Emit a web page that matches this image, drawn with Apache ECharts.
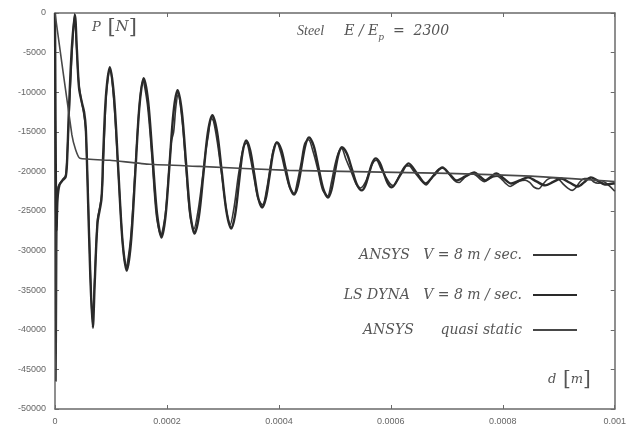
<!DOCTYPE html>
<html>
<head>
<meta charset="utf-8">
<script src="https://cdn.jsdelivr.net/npm/echarts@6/dist/echarts.min.js"></script>
<style>
html,body{margin:0;padding:0;background:#fff;}
#c{width:629px;height:439px;}
</style>
</head>
<body>
<div id="c"></div>
<script>
// displacement d in micrometres (x 1e-6 m), force P in N
const lsDyna = [
[0,0],[1.8,-24000],[2.7,-27500],[4.5,-23500],[8,-21700],[14,-21100],[19,-20700],[21.4,-19000],
[25,-12000],[30,-4500],[35.6,-250],[39,-4500],[43,-9500],[48,-11300],[52,-12500],[55,-14500],
[58,-21000],[63,-33000],[67.6,-39750],[71,-34000],[76,-26500],[83,-23500],[86,-18000],[91,-10500],
[97.9,-6840],[105.5,-10600],[113,-19700],[120.6,-28800],[128.1,-32530],[135.7,-28980],[143.3,-20380],
[150.8,-11780],[158.4,-8230],[166.4,-11170],[174.4,-18290],[182.4,-25410],[190.4,-28350],[197.5,-25630],
[204.7,-19050],[211.8,-12470],[218.9,-9750],[226.5,-12390],[234,-18800],[241.5,-25210],[249.1,-27850],
[257.1,-25670],[265.1,-20380],[273.1,-15090],[281.1,-12910],[289.5,-15000],[298,-20070],[306.5,-25130],
[314.9,-27220],[321.6,-25590],[328.3,-21650],[334.9,-17710],[341.6,-16080],[348.7,-17320],[355.9,-20320],
[363,-23320],[370.1,-24560],[376.8,-23360],[383.5,-20450],[390.1,-17530],[396.8,-16330],[404.4,-17290],
[412,-19620],[419.5,-21950],[427.1,-22910],[433.8,-21860],[440.5,-19310],[447.1,-16750],[453.8,-15700],
[462.3,-16810],[470.7,-19500],[479.2,-22180],[487.6,-23290],[493.8,-22370],[500,-20130],[506.3,-17880],
[512.5,-16960],[521.4,-17750],[530.3,-19680],[539.2,-21610],[548.1,-22400],[554.3,-21810],[560.6,-20380],
[566.8,-18940],[573,-18350],[580.1,-18890],[587.2,-20190],[594.3,-21480],[601.4,-22020],[616.5,-20500],
[631.7,-18990],[646.8,-20260],[661.9,-21520],[677,-20500],[692.2,-19490],[704.6,-20320],[717.1,-21140],
[733,-20640],[749.2,-20130],[759,-20640],[768.7,-21140],[778.5,-20700],[788.3,-20250],[801.6,-20890],
[815,-21520],[830,-21140],[845.2,-20760],[860,-21260],[875.5,-21770],[890,-21330],[904,-20890],
[919,-21400],[934.2,-21900],[946,-21330],[957.3,-20760],[970,-21200],[982.2,-21650],[1000,-21500]
];
const ansysDynamic = [
[0,0],[1.0,-30000],[1.8,-46500],[2.7,-35000],[3.6,-25000],[5.3,-22000],[9,-21500],[14,-21000],
[19,-20500],[22,-17500],[27,-10000],[32,-3000],[35,-100],[38,-3500],[42,-8500],[47,-11000],[52,-13000],
[55,-15000],[59,-23000],[63,-32500],[67,-39000],[71,-33500],[76,-26000],[80,-24500],[84,-22500],
[88,-16000],[92,-10000],[98,-7000],[105,-11000],[113,-20000],[121,-29200],[127,-32000],[135,-28500],
[143,-20000],[151,-11500],[157,-8600],[165,-11500],[173,-18000],[181,-25500],[189,-28000],[197,-25500],
[204,-19500],[208,-16200],[212,-15000],[216,-11800],[220,-10300],[227,-13500],[234,-19500],[241,-25500],
[248,-27300],[256,-24800],[264,-20500],[269,-17600],[274,-15400],[279,-13300],[283,-13600],[290,-16300],
[298,-20500],[306,-24800],[313,-26700],[320,-24500],[327,-20800],[332,-18600],[337,-16900],[342,-16400],
[349,-18300],[356,-21000],[363,-23500],[371,-24200],[378,-22300],[384,-19700],[390,-17300],[396,-16300],
[404,-17800],[411,-19900],[419,-22000],[427,-22800],[433,-21300],[440,-18800],[446,-16500],[453,-16000],
[461,-17500],[470,-19900],[478,-22300],[487,-23100],[494,-21300],[500,-19200],[506,-17700],[512,-17100],
[520,-18500],[529,-20000],[538,-21600],[546,-22100],[555,-21300],[562,-19900],[568,-18900],[574,-18600],
[582,-19600],[590,-20600],[598,-21500],[604,-21800],[612,-21000],[620,-19900],[627,-19300],[633,-19300],
[640,-19900],[648,-20600],[656,-21300],[663,-21700],[671,-21000],[679,-20200],[686,-19700],[693,-19600],
[700,-20000],[708,-20700],[716,-21300],[722,-21400],[730,-20900],[738,-20400],[745,-20300],[752,-20500],
[760,-21000],[767,-21300],[775,-21000],[782,-20700],[790,-20600],[797,-20900],[805,-21500],[813,-21900],
[821,-21600],[830,-21200],[840,-21100],[848,-21400],[856,-22000],[864,-22200],[872,-21600],[880,-21000],
[890,-20800],[900,-21000],[908,-21600],[916,-22100],[924,-22400],[930,-22100],[938,-21300],[946,-20900],
[955,-20900],[962,-21300],[970,-21500],[980,-21300],[990,-21800],[1000,-22500]
];
const ansysQuasi = [
[0,0],[30.2,-15400],[37,-17300],[44.5,-18350],[98,-18600],[169,-19100],[258,-19370],
[418,-19870],[703,-20250],[850,-20600],[1000,-21270]
];
const xTicks = [0, 0.0002, 0.0004, 0.0006, 0.0008, 0.001];
const yTicks = [0,-5000,-10000,-15000,-20000,-25000,-30000,-35000,-40000,-45000,-50000];
const legendNames = ['ANSYS   V = 8 m / sec.', 'LS DYNA   V = 8 m / sec.', 'ANSYS      quasi static'];

const toM = arr => arr.map(p => [p[0] * 1e-6, p[1]]);
const serif = '"DejaVu Serif", "Liberation Serif", serif';
const serif2 = '"Liberation Serif", serif';
const txtColor = '#555';
const frame = '#6a6a6a';
const lineColors = ['#363636', '#2a2a2a', '#484848'];

const chart = echarts.init(document.getElementById('c'), null, {renderer: 'canvas'});
const legendBase = (i, top) => ({
  data: [{name: legendNames[i], icon: 'rect', itemStyle: {color: lineColors[i]}}],
  right: 52, top: top, align: 'right', orient: 'vertical', padding: 0,
  itemWidth: 44, itemHeight: 2,
  textStyle: {fontFamily: serif, fontStyle: 'italic', fontSize: 14, color: txtColor, padding: [0, 6, 0, 0]}
});
chart.setOption({
  animation: false,
  backgroundColor: '#fff',
  grid: {left: 55, top: 13, right: 12, bottom: 30},
  legend: [legendBase(0, 248), legendBase(1, 288), legendBase(2, 323)],
  xAxis: [{
    type: 'value', min: xTicks[0], max: xTicks[xTicks.length - 1], interval: 0.0002,
    axisLine: {onZero: false, lineStyle: {color: frame, width: 1.5}},
    axisTick: {inside: true, length: 4, lineStyle: {color: frame}},
    axisLabel: {fontSize: 9, color: '#666', margin: 8, fontFamily: '"Liberation Sans", sans-serif',
      formatter: v => String(+v.toFixed(4))},
    splitLine: {show: false}
  }, {
    type: 'value', position: 'top', min: 0, max: 0.001, interval: 0.0002,
    axisLine: {onZero: false, lineStyle: {color: frame, width: 1.5}},
    axisTick: {inside: true, length: 4, lineStyle: {color: frame}},
    axisLabel: {show: false}, splitLine: {show: false}
  }],
  yAxis: [{
    type: 'value', min: yTicks[yTicks.length - 1], max: yTicks[0], interval: 5000,
    axisLine: {show: true, onZero: false, lineStyle: {color: frame, width: 1.5}},
    axisTick: {show: true, inside: true, length: 4, lineStyle: {color: frame}},
    axisLabel: {fontSize: 9, color: '#666', margin: 9, fontFamily: '"Liberation Sans", sans-serif',
      formatter: v => String(v)},
    splitLine: {show: false}
  }, {
    type: 'value', position: 'right', min: -50000, max: 0, interval: 5000,
    axisLine: {show: true, onZero: false, lineStyle: {color: frame, width: 1.5}},
    axisTick: {show: true, inside: true, length: 4, lineStyle: {color: frame}},
    axisLabel: {show: false}, splitLine: {show: false}
  }],
  series: [{
    name: legendNames[0], type: 'line', xAxisIndex: 0, yAxisIndex: 0,
    data: toM(ansysDynamic), symbol: 'none', smooth: 0.3,
    lineStyle: {color: lineColors[0], width: 1.6}, itemStyle: {color: lineColors[0]}
  }, {
    name: legendNames[1], type: 'line', xAxisIndex: 0, yAxisIndex: 0,
    data: toM(lsDyna), symbol: 'none', smooth: 0.3,
    lineStyle: {color: lineColors[1], width: 2.4}, itemStyle: {color: lineColors[1]}
  }, {
    name: legendNames[2], type: 'line', xAxisIndex: 0, yAxisIndex: 0,
    data: toM(ansysQuasi), symbol: 'none', smooth: 0.15,
    lineStyle: {color: lineColors[2], width: 1.6}, itemStyle: {color: lineColors[2]}
  }],
  graphic: [{
    type: 'text', left: 92, top: 17,
    style: {text: '{i|P}  {b|[}{n|N}{b|]}', fill: txtColor,
      rich: {i: {fontFamily: serif, fontStyle: 'italic', fontSize: 13, fill: txtColor},
             n: {fontFamily: serif, fontStyle: 'italic', fontSize: 15, fill: txtColor},
             b: {fontFamily: serif, fontSize: 21, fill: txtColor}}}
  }, {
    type: 'text', left: 297, top: 24,
    style: {text: '{t|Steel}      {a|E / E}{s|p}{a|  =  2300}', fill: txtColor,
      rich: {t: {fontFamily: serif2, fontStyle: 'italic', fontSize: 14, fill: txtColor, verticalAlign: 'bottom'},
             a: {fontFamily: serif, fontStyle: 'italic', fontSize: 14, fill: txtColor, verticalAlign: 'bottom'},
             s: {fontFamily: serif, fontStyle: 'italic', fontSize: 9, fill: txtColor, verticalAlign: 'bottom', padding: [0, 0, -4, 0]}}}
  }, {
    type: 'text', left: 548, top: 370,
    style: {text: '{i|d}  {b|[}{n|m}{b|]}', fill: txtColor,
      rich: {i: {fontFamily: serif, fontStyle: 'italic', fontSize: 13, fill: txtColor},
             n: {fontFamily: serif, fontStyle: 'italic', fontSize: 13, fill: txtColor},
             b: {fontFamily: serif, fontSize: 20, fill: txtColor}}}
  }]
});
</script>
</body>
</html>
